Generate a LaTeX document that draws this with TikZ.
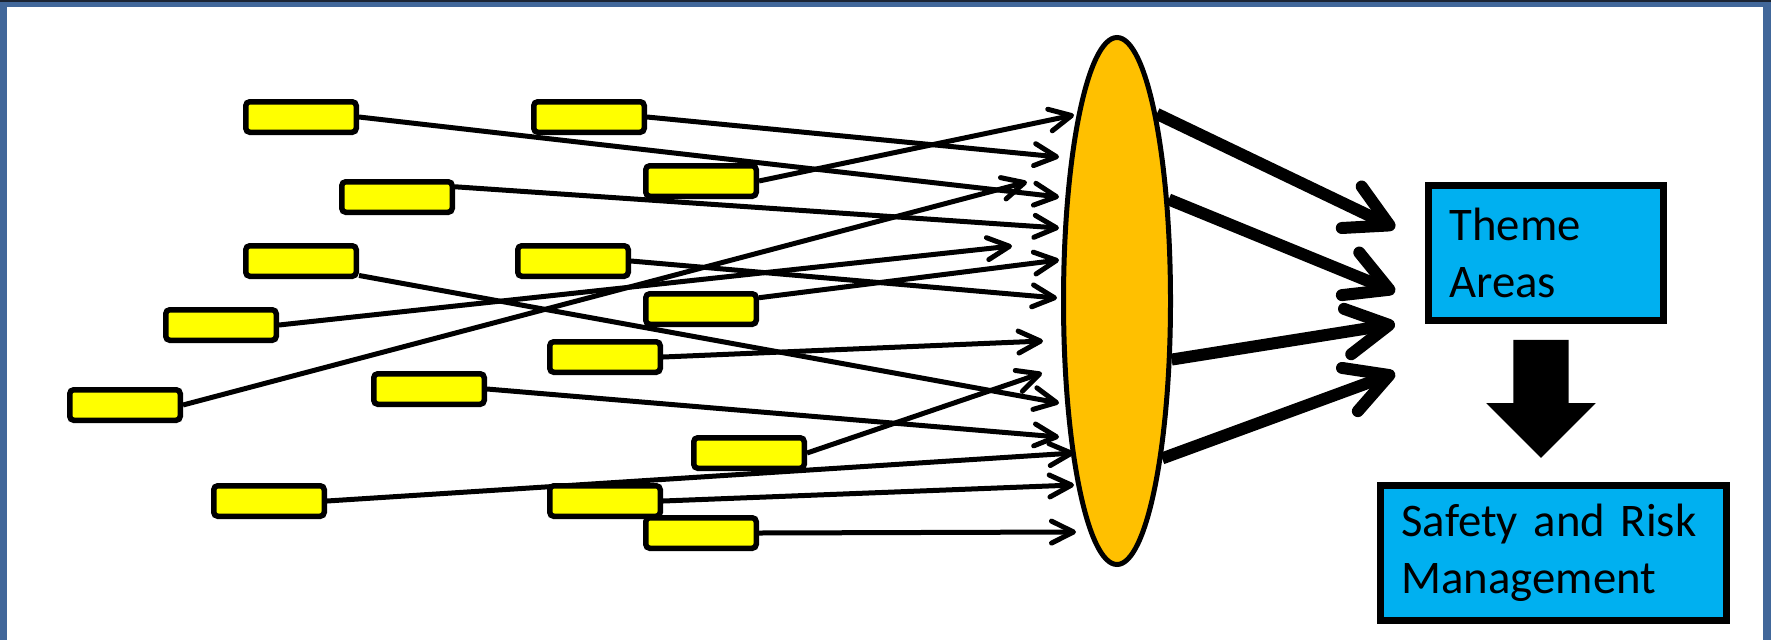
\documentclass[tikz,border=0pt]{standalone}
\usepackage{fontspec}
\setmainfont{Carlito}
\usepackage{tikz}
\usetikzlibrary{shapes,arrows.meta,backgrounds}

\definecolor{frameblue}{HTML}{41679A}
\definecolor{framedark}{HTML}{1B2433}
\definecolor{itemyellow}{HTML}{FFFF00}
\definecolor{lensorange}{HTML}{FFC000}
\definecolor{areablue}{HTML}{00B0F0}

\begin{document}
\begin{tikzpicture}[
    x=0.1mm, y=-0.1mm,
    item/.style={rectangle, draw, line width=0.55mm, fill=itemyellow, rounded corners=0.4mm, minimum width=11.05mm, minimum height=3.05mm, inner sep=0pt},
    lens/.style={ellipse, draw, line width=0.5mm, fill=lensorange, minimum width=10.7mm, minimum height=52.7mm, inner sep=0pt},
    area/.style={rectangle, draw, line width=0.7mm, fill=areablue, align=left, inner xsep=2.1mm, minimum height=13.5mm, font=\fontsize{13.3pt}{16.2pt}\selectfont},
    line/.style={draw, line width=0.5mm, -{Straight Barb[round, length=2.2mm, width=2.2mm]}},
    thickline/.style={draw, line width=1.2mm, -{Straight Barb[round, length=4.2mm, width=4.6mm]}},
    downarrow/.style={single arrow, fill=black, rotate=-90, inner xsep=0pt, inner ysep=2.7mm, minimum height=11.8mm, minimum width=10.8mm, single arrow head extend=2.7mm, single arrow head indent=0mm}
]
    \useasboundingbox (0,0) rectangle (1771,640);

    % Issues (yellow boxes)
    \node [item] (i1) at (301,117) {};
    \node [item] (i2) at (589,117) {};
    \node [item] (i3) at (701,181) {};
    \node [item] (i4) at (397,197) {};
    \node [item] (i5) at (301,261) {};
    \node [item] (i6) at (573,261) {};
    \node [item] (i7) at (221,325) {};
    \node [item] (i8) at (701,309) {};
    \node [item] (i9) at (605,357) {};
    \node [item] (i10) at (125,405) {};
    \node [item] (i11) at (429,389) {};
    \node [item] (i12) at (749,453) {};
    \node [item] (i13) at (269,501) {};
    \node [item] (i14) at (605,501) {};
    \node [item] (i15) at (701,533) {};

    % Lens and outcomes
    \node [lens] (oval) at (1117,301) {};
    \node [area, text width=19.3mm] (theme) at (1546,253) {Theme\\Areas};
    \node [downarrow] (down) at (1541,385) {};
    \node [area, text width=30.4mm] (safety) at (1553.5,553) {Safety and Risk\\Management};

    % Arrow tips at the lens
    \coordinate (p1) at (1059,197);
    \coordinate (p2) at (1059,157);
    \coordinate (p3) at (1074,115);
    \coordinate (p4) at (1059,228);
    \coordinate (p5) at (1059,403);
    \coordinate (p6) at (1057,298);
    \coordinate (p7) at (1012,246);
    \coordinate (p8) at (1059,260);
    \coordinate (p9) at (1043,341);
    \coordinate (p10) at (1027,182);
    \coordinate (p11) at (1059,437);
    \coordinate (p12) at (1042,373);
    \coordinate (p13) at (1074,453);
    \coordinate (p14) at (1074,485);
    \coordinate (p15) at (1076,532);

    % Arrow tips at the theme areas
    \coordinate (h1) at (1395,228);
    \coordinate (h2) at (1395,292);
    \coordinate (h3) at (1395,324);
    \coordinate (h4) at (1395,373);

    \begin{scope}[on background layer]
        % Frame
        \fill [frameblue] (0,0) rectangle (1771,640);
        \fill [framedark] (0,0) rectangle (1771,2);
        \fill [white] (7,7) rectangle (1763,640);

        % Paths
        \path [line] (i1.east) -- (p1);
        \path [line] (i2.east) -- (p2);
        \path [line] (i3.east) -- (p3);
        \path [line] (i4.10) -- (p4);
        \path [line] (i5.-14) -- (p5);
        \path [line] (i6.east) -- (p6);
        \path [line] (i7.east) -- (p7);
        \path [line] (i8.11) -- (p8);
        \path [line] (i9.east) -- (p9);
        \path [line] (i10.east) -- (p10);
        \path [line] (i11.east) -- (p11);
        \path [line] (i12.east) -- (p12);
        \path [line] (i13.east) -- (p13);
        \path [line] (i14.east) -- (p14);
        \path [line] (i15.east) -- (p15);

        \path [thickline] (oval.78) -- (h1);
        \path [thickline] (oval.63) -- (h2);
        \path [thickline] (oval.-47) -- (h3);
        \path [thickline] (oval.-74) -- (h4);
    \end{scope}

\end{tikzpicture}
\end{document}
